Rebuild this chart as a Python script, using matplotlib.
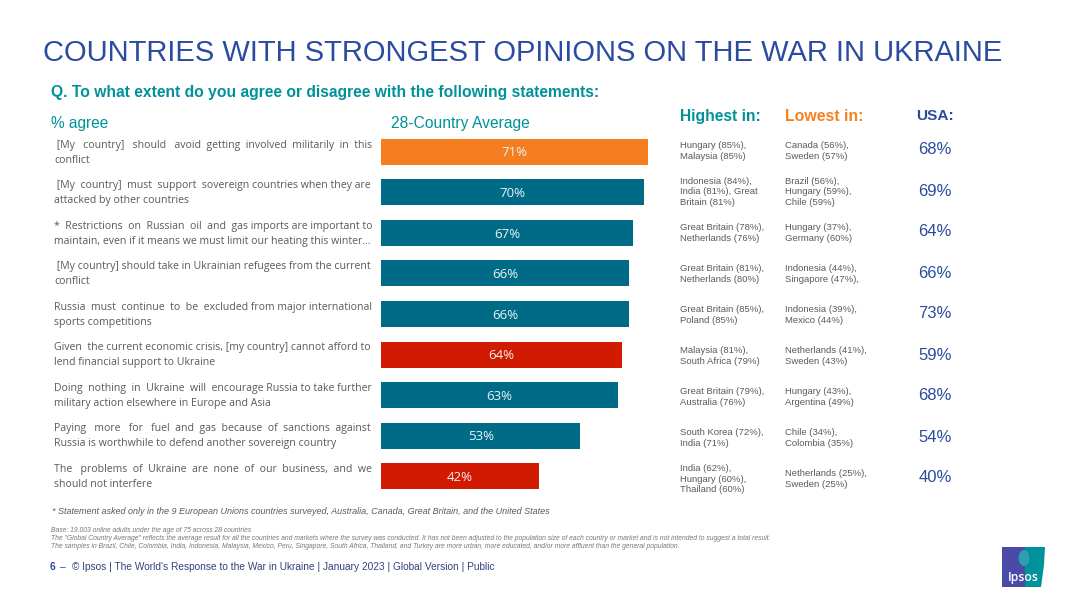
import matplotlib
matplotlib.use('Agg')
import matplotlib.pyplot as plt
from matplotlib.patches import Rectangle, Ellipse, Polygon

title = 'COUNTRIES WITH STRONGEST OPINIONS ON THE WAR IN UKRAINE'
question = 'Q. To what extent do you agree or disagree with the following statements:'

statements = [
    (' [My country] should avoid getting involved militarily in this', 'conflict'),
    (' [My country] must support sovereign countries when they are', 'attacked by other countries'),
    ('* Restrictions on Russian oil and gas imports are important to', 'maintain, even if it means we must limit our heating this winter...'),
    (' [My country] should take in Ukrainian refugees from the current', 'conflict'),
    ('Russia must continue to be excluded from major international', 'sports competitions'),
    ('Given the current economic crisis, [my country] cannot afford to', 'lend financial support to Ukraine'),
    ('Doing nothing in Ukraine will encourage Russia to take further', 'military action elsewhere in Europe and Asia'),
    ('Paying more for fuel and gas because of sanctions against', 'Russia is worthwhile to defend another sovereign country'),
    ('The problems of Ukraine are none of our business, and we', 'should not interfere'),
]
average = [71, 70, 67, 66, 66, 64, 63, 53, 42]
bar_colors = ['#F57F20', '#006B87', '#006B87', '#006B87', '#006B87',
              '#D21A00', '#006B87', '#006B87', '#D21A00']
highest = [
    'Hungary (85%),\nMalaysia (85%)',
    'Indonesia (84%),\nIndia (81%), Great\nBritain (81%)',
    'Great Britain (78%),\nNetherlands (76%)',
    'Great Britain (81%),\nNetherlands (80%)',
    'Great Britain (85%),\nPoland (85%)',
    'Malaysia (81%),\nSouth Africa (79%)',
    'Great Britain (79%),\nAustralia (76%)',
    'South Korea (72%),\nIndia (71%)',
    'India (62%),\nHungary (60%),\nThailand (60%)',
]
lowest = [
    'Canada (56%),\nSweden (57%)',
    'Brazil (56%),\nHungary (59%),\nChile (59%)',
    'Hungary (37%),\nGermany (60%)',
    'Indonesia (44%),\nSingapore (47%),',
    'Indonesia (39%),\nMexico (44%)',
    'Netherlands (41%),\nSweden (43%)',
    'Hungary (43%),\nArgentina (49%)',
    'Chile (34%),\nColombia (35%)',
    'Netherlands (25%),\nSweden (25%)',
]
usa = [68, 69, 64, 66, 73, 59, 68, 54, 40]

note = '* Statement asked only in the 9 European Unions countries surveyed, Australia, Canada, Great Britain, and the United States'
base_lines = [
    'Base: 19,003 online adults under the age of 75 across 28 countries',
    'The "Global Country Average" reflects the average result for all the countries and markets where the survey was conducted. It has not been adjusted to the population size of each country or market and is not intended to suggest a total result.',
    'The samples in Brazil, Chile, Colombia, India, Indonesia, Malaysia, Mexico, Peru, Singapore, South Africa, Thailand, and Turkey are more urban, more educated, and/or more affluent than the general population.',
]
footer = "© Ipsos | The World's Response to the War in Ukraine | January 2023 | Global Version | Public"

BLUE = '#2B4BA0'
TEAL = '#00929B'
ORANGE = '#F58220'
GREY = '#5A5A5A'
SANS = 'Liberation Sans'
BODY = 'Open Sans'
BODY_SIZE = 7.6

fig = plt.figure(figsize=(10.8, 6.07), dpi=100, facecolor='white')

# page layer in pixel coordinates
page = fig.add_axes([0, 0, 1, 1])
page.set_xlim(0, 1080)
page.set_ylim(607, 0)
page.axis('off')

# bar layer, x scale is 3.76 px per percent
bar_left, bar_width = 381, 376
row_top, row_h = 131.5, 40.56
bars = fig.add_axes([bar_left / 1080, 1 - (row_top + 9 * row_h) / 607,
                     bar_width / 1080, 9 * row_h / 607])
bars.set_xlim(0, 100)
bars.set_ylim(8.5, -0.5)
bars.axis('off')
bars.patch.set_alpha(0)
rows = list(range(len(average)))
bars.barh(rows, average, height=0.64, color=bar_colors)
for r, v in zip(rows, average):
    bars.text(v / 2, r + 0.03, f'{v}%', color='#EAF4F6', ha='center', va='center',
              fontsize=9.5, family=BODY)


def justify(line, width):
    # pad the gaps with spaces until the line fills the column, like the slide does
    renderer = fig.canvas.get_renderer()
    lead = line.startswith(' ')
    words = line.split()
    gaps = [1] * (len(words) - 1)
    def build():
        s = words[0]
        for w, g in zip(words[1:], gaps):
            s += ' ' * g + w
        return (' ' if lead else '') + s
    t = page.text(0, 0, build(), fontsize=BODY_SIZE, family=BODY)
    i = 0
    while True:
        gaps[i % len(gaps)] += 1
        t.set_text(build())
        if t.get_window_extent(renderer).width > width:
            gaps[i % len(gaps)] -= 1
            break
        i += 1
    t.remove()
    return build()


page.text(43, 53, title, color=BLUE, fontsize=20.97, family=SANS, va='center')
page.text(51, 92.5, question, color=TEAL, fontsize=11.25, family=SANS,
          weight='bold', va='center')
page.text(51, 123.5, '% agree', color=TEAL, fontsize=11.2, family=SANS, va='center')
page.text(391, 123.5, '28-Country Average', color=TEAL, fontsize=11.27, family=SANS, va='center')
page.text(680, 116, 'Highest in:', color=TEAL, fontsize=11.26, family=SANS,
          weight='bold', va='center')
page.text(785, 116.5, 'Lowest in:', color=ORANGE, fontsize=11.4, family=SANS,
          weight='bold', va='center')
page.text(916, 116, 'USA:', color=BLUE, fontsize=11.1, family=SANS,
          weight='bold', va='center')

for r in rows:
    cy = 152.8 + r * 40.5
    first, second = statements[r]
    page.text(54, cy - 7.5, justify(first, 319), color=GREY, fontsize=BODY_SIZE,
              family=BODY, va='center')
    page.text(54, cy + 7.5, second, color=GREY, fontsize=BODY_SIZE, family=BODY, va='center')
    # right hand columns sit on a slightly wider pitch than the bars
    cy2 = 150 + r * 41
    page.text(680, cy2 + 1, highest[r], color=GREY, fontsize=6.8, family=SANS,
              va='center', linespacing=1.26)
    page.text(785, cy2 + 1, lowest[r], color=GREY, fontsize=6.8, family=SANS,
              va='center', linespacing=1.26)
    page.text(935, cy2, f'{usa[r]}%', color=BLUE, fontsize=12, family=SANS,
              ha='center', va='center')

page.text(52, 512, note, color=GREY, fontsize=6.52, family=SANS, style='italic', va='center')
for y, line in zip([530, 538, 546.5], base_lines):
    page.text(51, y, line, color='#777777', fontsize=4.87, family=SANS,
              style='italic', va='center')

page.text(50, 567, '6', color=BLUE, fontsize=7.3, family=SANS, weight='bold', va='center')
page.text(60, 567, '–', color=BLUE, fontsize=7.3, family=SANS, va='center')
page.text(72, 567, footer, color='#34407F', fontsize=7.3, family=SANS, va='center')

# Ipsos logo
page.add_patch(Rectangle((1002, 547), 23, 40, color='#4A4AA8', lw=0))
page.add_patch(Polygon([(1025, 547), (1045, 547), (1044, 565), (1041, 587), (1025, 587)],
                       closed=True, color='#00929B', lw=0))
page.add_patch(Ellipse((1024, 558), 11, 16, color='#2E9FB0', lw=0))
page.text(1023.5, 577, 'Ipsos', color='white', fontsize=8.8, family=BODY,
          weight='semibold', ha='center', va='center')

fig.savefig('out.png', dpi=100)
